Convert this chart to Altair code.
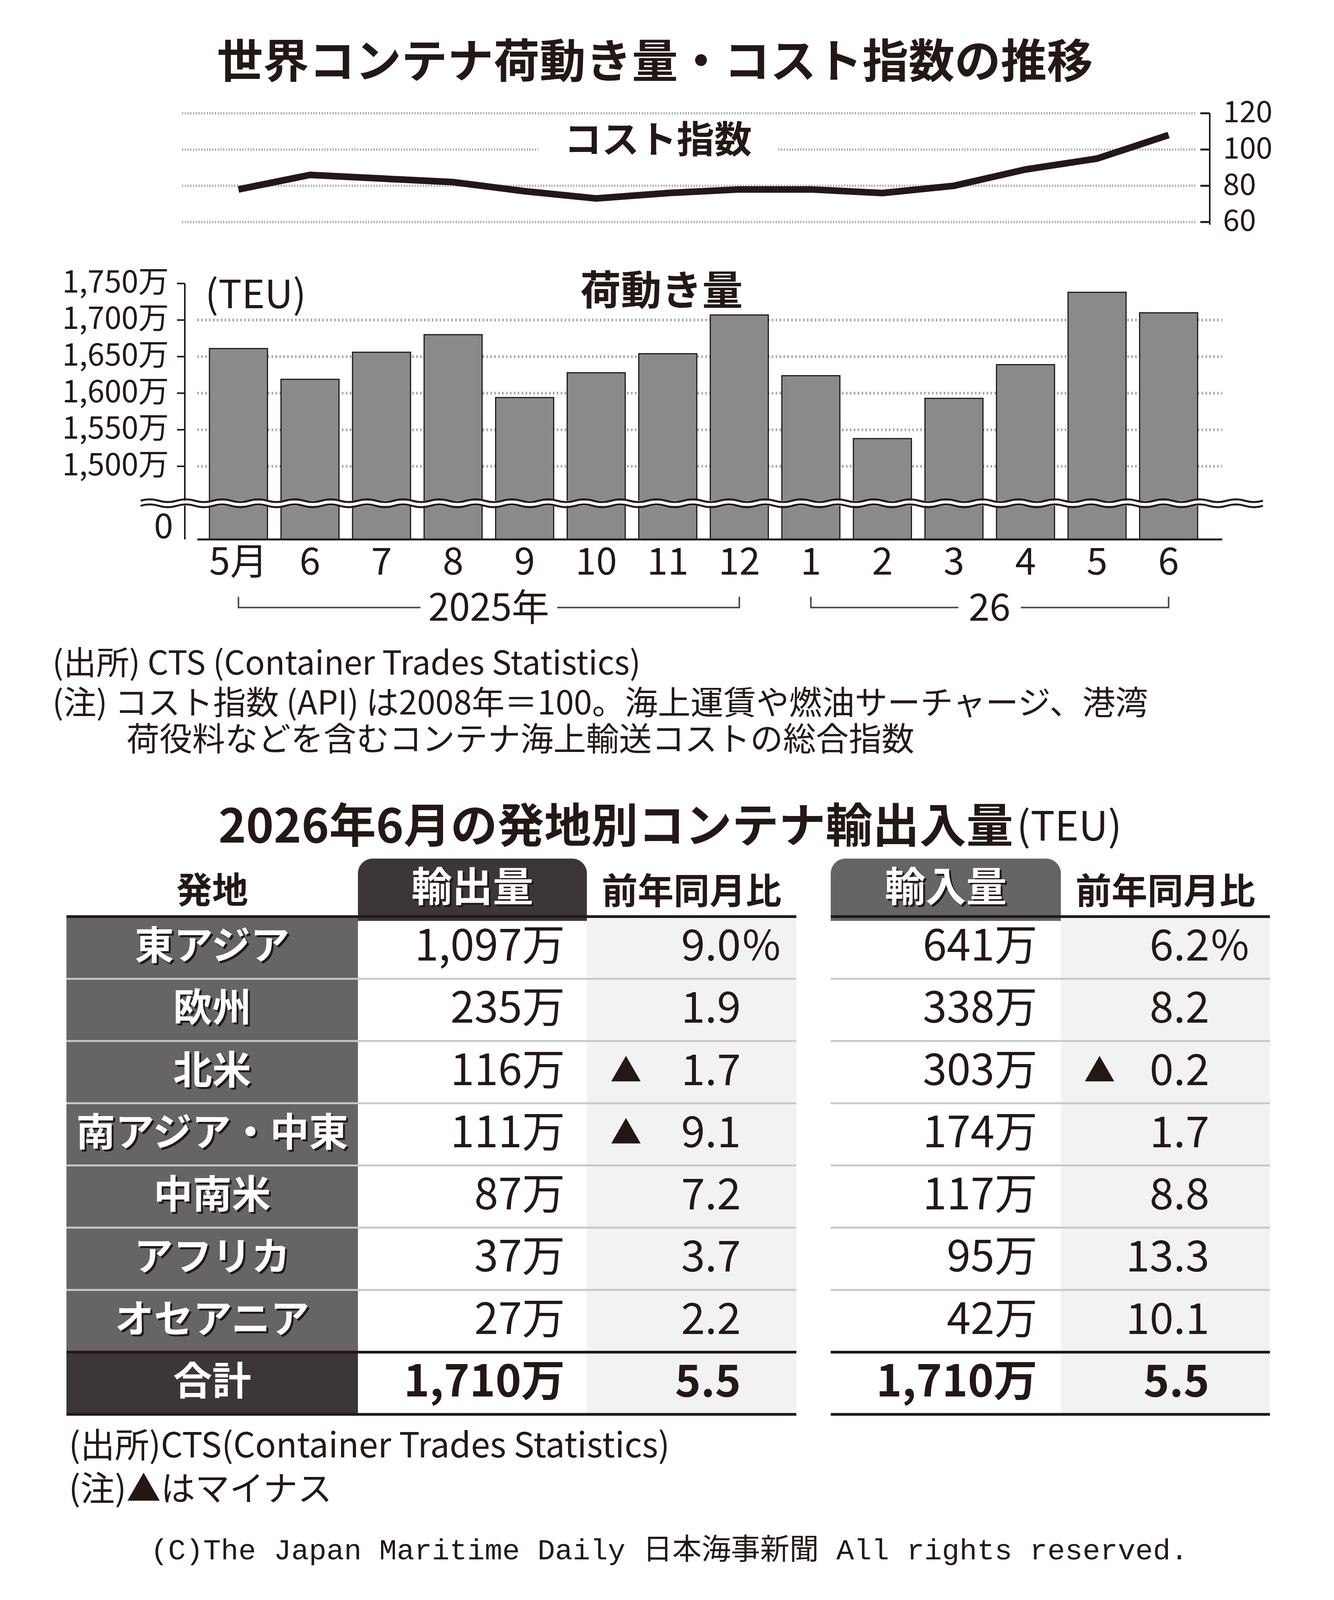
import altair as alt
import pandas as pd

# ---------------- colours / fonts ----------------
DARK = "#231815"
MID = "#666464"
TAB_DARK = "#3c3637"
LIGHT_BG = "#f2f2f2"
SEP = "#c8c8c8"
GRID = "#a8a8a8"
BAR = "#8a8a8a"
BRACKET = "#4a4a4a"
JP = "Noto Sans CJK JP"
MONO = "Liberation Mono, Noto Sans CJK JP"

# The photographed page is only ~4096 px tall, so vertical layout is scaled to fit.
K = 4096 / 5076


def sy(v):
    return v * K


# ---------------- data ----------------
month_keys = ["2025-05", "2025-06", "2025-07", "2025-08", "2025-09", "2025-10", "2025-11",
              "2025-12", "2026-01", "2026-02", "2026-03", "2026-04", "2026-05", "2026-06"]
month_labels = ["5月", "6", "7", "8", "9", "10", "11", "12", "1", "2", "3", "4", "5", "6"]
volume = [1661, 1619, 1656, 1680, 1594, 1628, 1654, 1707, 1624, 1538, 1593, 1639, 1738, 1710]
cost_index = [78, 86, 84, 82, 77, 73, 76, 78, 78, 76, 80, 89, 95, 108]

cost_ticks = [60, 80, 100, 120]
volume_ticks = [1500, 1550, 1600, 1650, 1700, 1750]
volume_grid = [1500, 1550, 1600, 1650, 1700]
volume_floor = 1400          # drawn as "0" below the axis break
volume_break = [1453, 1446]  # edges of the axis break

year_labels = ["2025年", "26"]
year_first = ["2025-05", "2026-01"]
year_last = ["2025-12", "2026-06"]
year_mid = ["2025-08", "2026-03"]

title_main = "世界コンテナ荷動き量・コスト指数の推移"
cost_label = "コスト指数"
volume_label = "荷動き量"
unit_label = "(TEU)"
zero_label = "0"
notes_top = ["(出所) CTS (Container Trades Statistics)",
             "(注) コスト指数 (API) は2008年＝100。海上運賃や燃油サーチャージ、港湾",
             "荷役料などを含むコンテナ海上輸送コストの総合指数"]

regions = ["東アジア", "欧州", "北米", "南アジア・中東", "中南米", "アフリカ", "オセアニア", "合計"]
export_man = [1097, 235, 116, 111, 87, 37, 27, 1710]
export_yoy = [9.0, 1.9, -1.7, -9.1, 7.2, 3.7, 2.2, 5.5]
import_man = [641, 338, 303, 174, 117, 95, 42, 1710]
import_yoy = [6.2, 8.2, -0.2, 1.7, 8.8, 13.3, 10.1, 5.5]

table_title = "2026年6月の発地別コンテナ輸出入量"
table_unit = "(TEU)"
header_region = "発地"
header_export = "輸出量"
header_import = "輸入量"
header_yoy = "前年同月比"
notes_bottom = ["(出所)CTS(Container Trades Statistics)", "(注)▲はマイナス"]
copyright_text = "(C)The Japan Maritime Daily 日本海事新聞 All rights reserved."


def one(text=""):
    return pd.DataFrame({"t": [text]})


# ================= scales =================
W_TOP, H_TOP = 2958, round(sy(1352))
xs = alt.Scale(domain=month_keys, range=[366, 2895], paddingInner=0.189, paddingOuter=0)
cs = alt.Scale(domain=[60, 120], range=[sy(345), 0], nice=False, zero=False)
vs = alt.Scale(domain=[1400, 1750], range=[sy(1352), sy(540)], nice=False, zero=False)

T0 = sy(2351)      # top of the table block (px below the plot origin)
ROW = sy(197.4)
rows_order = ["header"] + regions
ys = alt.Scale(domain=rows_order, range=[T0, T0 + ROW * len(rows_order)],
               paddingInner=0, paddingOuter=0)

df_m = pd.DataFrame({"key": month_keys, "label": month_labels, "vol": volume, "cost": cost_index})
df_ct = pd.DataFrame({"v": cost_ticks})
df_vt = pd.DataFrame({"v": volume_ticks})
df_vg = pd.DataFrame({"v": volume_grid})

XK = alt.X("key:N", scale=xs, sort=month_keys, axis=None)


def YC(field="v"):
    return alt.Y(field + ":Q", scale=cs, axis=None)


def YV(field="v"):
    return alt.Y(field + ":Q", scale=vs, axis=None)


def YCd(val):
    return alt.YDatum(val, type="quantitative", scale=cs, axis=None)


def YVd(val):
    return alt.YDatum(val, type="quantitative", scale=vs, axis=None)


def YR(**kw):
    return alt.Y("row:N", scale=ys, sort=rows_order, axis=None, **kw)


layers = []
# layout anchor (invisible) - fixes the top-left bounds of the view
layers.append(alt.Chart(one()).mark_rule(color="white", strokeWidth=1).encode(
    x=alt.value(-150), y=alt.value(sy(-250)), y2=alt.value(sy(-250) + 1)))

# ================= cost index =================
layers.append(alt.Chart(df_ct).mark_rule(color=GRID, strokeWidth=6, strokeDash=[3, 4]).encode(
    x=alt.value(296), x2=alt.value(2889), y=YC()))
layers.append(alt.Chart(df_ct).mark_rule(color=DARK, strokeWidth=5).encode(
    x=alt.value(2902), x2=alt.value(2926), y=YC()))
layers.append(alt.Chart(one()).mark_rule(color=DARK, strokeWidth=4).encode(
    x=alt.value(2926), y=YCd(120), y2=alt.datum(58.5)))
layers.append(alt.Chart(df_ct).transform_calculate(lab="format(datum.v, 'd')").mark_text(
    font=JP, fontSize=76, color=DARK, align="left", baseline="middle").encode(
    x=alt.value(2960), y=YC(), text="lab:N"))
layers.append(alt.Chart(one()).mark_rect(
    color="white", xOffset=-331, x2Offset=281, yOffset=-7, y2Offset=7).encode(
    x=alt.XDatum("2025-11", type="nominal", scale=xs, axis=None),
    x2=alt.X2Datum("2025-11"), y=YCd(100), y2=alt.datum(100)))
layers.append(alt.Chart(one(cost_label)).mark_text(
    font=JP, fontSize=96, fontWeight="bold", color=DARK, dx=-25, baseline="middle").encode(
    x=alt.XDatum("2025-11", type="nominal", scale=xs, axis=None), y=YCd(104.5), text="t:N"))
layers.append(alt.Chart(df_m).mark_line(
    color=DARK, strokeWidth=17, strokeCap="butt", strokeJoin="miter").encode(
    x=XK, y=YC("cost")))

# ================= volume bars =================
layers.append(alt.Chart(df_vg).mark_rule(color=GRID, strokeWidth=7, strokeDash=[4, 6]).encode(
    x=alt.value(335), x2=alt.value(2958), y=YV()))
layers.append(alt.Chart(df_m).mark_bar(fill=BAR, stroke=DARK, strokeWidth=3).encode(
    x=XK, y=YV("vol"), y2=alt.datum(volume_floor)))
layers.append(alt.Chart(one()).mark_rule(color=DARK, strokeWidth=5).encode(
    x=alt.value(335), x2=alt.value(2958), y=YVd(volume_floor)))
layers.append(alt.Chart(one()).mark_rule(color=DARK, strokeWidth=4).encode(
    x=alt.value(303), y=YVd(1750), y2=alt.datum(volume_floor)))
layers.append(alt.Chart(df_vt).mark_rule(color=DARK, strokeWidth=4).encode(
    x=alt.value(283), x2=alt.value(303), y=YV()))
layers.append(alt.Chart(df_vt).transform_calculate(lab="format(datum.v, ',') + '万'").mark_text(
    font=JP, fontSize=78, color=DARK, align="right", baseline="middle").encode(
    x=alt.value(262), y=YV(), text="lab:N"))
layers.append(alt.Chart(one()).mark_rect(color="white").encode(
    x=alt.value(190), x2=alt.value(3062), y=YVd(volume_break[0]), y2=alt.datum(volume_break[1])))
half = 2 / 62
seg = "q%.5f,-0.0050 %.5f,0 q%.5f,0.0050 %.5f,0" % (half / 2, half, half / 2, half)
wave_path = "M-1,0 " + " ".join([seg] * 31)
layers.append(alt.Chart(pd.DataFrame({"v": volume_break})).mark_point(
    shape=wave_path, size=2872 ** 2, filled=False, stroke=DARK, strokeWidth=5, opacity=1).encode(
    x=alt.value(1626), y=YV()))
layers.append(alt.Chart(one(zero_label)).mark_text(
    font=JP, fontSize=88, color=DARK, align="right", baseline="alphabetic", dy=-3).encode(
    x=alt.value(273), y=YVd(volume_floor), text="t:N"))
layers.append(alt.Chart(one(volume_label)).mark_text(
    font=JP, fontSize=104, fontWeight="bold", color=DARK, dx=-16, baseline="middle").encode(
    x=alt.XDatum("2025-11", type="nominal", scale=xs, axis=None), y=YVd(1737), text="t:N"))
layers.append(alt.Chart(one(unit_label)).mark_text(
    font=JP, fontSize=100, color=DARK, align="left", dx=-11, baseline="middle").encode(
    x=alt.XDatum("2025-05", type="nominal", scale=xs, axis=None, bandPosition=0),
    y=YVd(1732), text="t:N"))

# month labels
layers.append(alt.Chart(df_m).mark_text(
    font=JP, fontSize=96, color=DARK, baseline="middle").encode(
    x=XK, y=alt.value(sy(1428)), text="label:N"))

# year brackets
df_ye = pd.DataFrame({"label": year_labels * 2, "key": year_first + year_last})
df_ym = pd.DataFrame({"label": year_labels, "mid": year_mid})
layers.append(alt.Chart(df_ye).mark_line(color=BRACKET, strokeWidth=4).encode(
    x=XK, y=alt.value(sy(1568)), detail="label:N"))
layers.append(alt.Chart(df_ye).mark_rule(color=BRACKET, strokeWidth=4).encode(
    x=XK, y=alt.value(sy(1568) + 2), y2=alt.value(sy(1534))))
for lab, gap_half in zip(year_labels, [175, 80]):
    layers.append(alt.Chart(df_ym).transform_filter(
        alt.FieldEqualPredicate(field="label", equal=lab)).mark_rect(
        color="white", xOffset=17 - gap_half, x2Offset=17 + gap_half).encode(
        x=alt.X("mid:N", scale=xs, axis=None, bandPosition=1),
        x2=alt.X2("mid", bandPosition=1), y=alt.value(sy(1568) - 12), y2=alt.value(sy(1568) + 12)))
layers.append(alt.Chart(df_ym).mark_text(
    font=JP, fontSize=96, color=DARK, dx=17, baseline="middle").encode(
    x=alt.X("mid:N", scale=xs, axis=None, bandPosition=1), y=alt.value(sy(1574)), text="label:N"))

# title and notes
layers.append(alt.Chart(one(title_main)).mark_text(
    font=JP, fontSize=118, fontWeight="bold", color=DARK, baseline="middle").encode(
    x=alt.value(1506), y=alt.value(sy(-156)), text="t:N"))
for t, (px, py) in zip(notes_top, [(-36, 1750), (-36, 1876), (154, 1992)]):
    layers.append(alt.Chart(one(t)).mark_text(
        font=JP, fontSize=84, color=DARK, align="left", baseline="middle").encode(
        x=alt.value(px), y=alt.value(sy(py)), text="t:N"))

# ================= table (rows on a band scale) =================
df_t = pd.DataFrame({"row": regions, "exp": export_man, "exp_yoy": export_yoy,
                     "imp": import_man, "imp_yoy": import_yoy})
TOTAL = regions[-1]
FIRST = regions[0]
is_total = "datum.row == '%s'" % TOTAL
not_total = "datum.row != '%s'" % TOTAL

# column layout (pixels from the table's left edge)
COL_REG = (0, 746)
COL_EXV = (746, 586)
COL_EXY = (1332, 536)
COL_IMV = (1956, 589)
COL_IMY = (2545, 535)


def separators(x0, w):
    base = alt.Chart(df_t)
    light = base.transform_filter(alt.FieldOneOfPredicate(field="row", oneOf=regions[1:-1])).mark_rule(
        color=SEP, strokeWidth=5).encode(x=alt.value(x0), x2=alt.value(x0 + w), y=YR(bandPosition=0))
    dark = base.transform_filter(alt.FieldOneOfPredicate(field="row", oneOf=[FIRST, TOTAL])).mark_rule(
        color=DARK, strokeWidth=7).encode(x=alt.value(x0), x2=alt.value(x0 + w), y=YR(bandPosition=0))
    bottom = base.transform_filter(alt.FieldEqualPredicate(field="row", equal=TOTAL)).mark_rule(
        color=DARK, strokeWidth=7).encode(x=alt.value(x0), x2=alt.value(x0 + w), y=YR(bandPosition=1))
    return [light, dark, bottom]


def header_text(text, x0, w, dy, size, weight, color, shadow=False):
    df = pd.DataFrame({"row": ["header"], "t": [text]})
    out = []
    if shadow:
        out.append(alt.Chart(df).mark_text(font=JP, fontSize=size, fontWeight=weight, color=DARK,
                                           dx=5, dy=dy + 5, baseline="middle").encode(
            x=alt.value(x0 + w / 2), y=YR(), text="t:N"))
    out.append(alt.Chart(df).mark_text(font=JP, fontSize=size, fontWeight=weight, color=color,
                                       dy=dy, baseline="middle").encode(
        x=alt.value(x0 + w / 2), y=YR(), text="t:N"))
    return out


def tab(x0, w, fill):
    df = pd.DataFrame({"row": ["header"]})
    return alt.Chart(df).mark_rect(fill=fill, cornerRadiusTopLeft=38, cornerRadiusTopRight=38,
                                   yOffset=11).encode(
        x=alt.value(x0), x2=alt.value(x0 + w), y=YR())


def region_col(x0, w):
    bg = alt.Chart(df_t).mark_rect().encode(
        x=alt.value(x0), x2=alt.value(x0 + w), y=YR(),
        color=alt.condition(is_total, alt.value(TAB_DARK), alt.value(MID)))
    shadow = alt.Chart(df_t).transform_filter(not_total).mark_text(
        font=JP, fontSize=100, fontWeight="bold", color=DARK, dx=5, dy=5, baseline="middle").encode(
        x=alt.value(x0 + w / 2), y=YR(), text="row:N")
    text = alt.Chart(df_t).mark_text(
        font=JP, fontSize=100, fontWeight="bold", color="white", baseline="middle").encode(
        x=alt.value(x0 + w / 2), y=YR(), text="row:N")
    return [bg, *separators(x0, w), shadow, text,
            *header_text(header_region, x0, w, 17, 92, "bold", DARK)]


def value_col(field, x0, w, right, tab_fill, tab_text):
    base = alt.Chart(df_t).transform_calculate(lab="format(datum.%s, ',') + '万'" % field)
    normal = base.transform_filter(not_total).mark_text(
        font=JP, fontSize=110, color=DARK, align="right", baseline="middle").encode(
        x=alt.value(x0 + right), y=YR(), text="lab:N")
    total = base.transform_filter(is_total).mark_text(
        font=JP, fontSize=112, fontWeight="bold", color=DARK, align="right", baseline="middle").encode(
        x=alt.value(x0 + right), y=YR(), text="lab:N")
    return [tab(x0, w, tab_fill), *separators(x0, w), normal, total,
            *header_text(tab_text, x0, w, 10, 104, "bold", "white", shadow=True)]


def yoy_col(field, x0, w, right, tri_x):
    base = alt.Chart(df_t).transform_calculate(lab="format(abs(datum.%s), '.1f')" % field)
    bg = alt.Chart(df_t).mark_rect(fill=LIGHT_BG).encode(
        x=alt.value(x0), x2=alt.value(x0 + w), y=YR())
    normal = base.transform_filter(not_total).mark_text(
        font=JP, fontSize=110, color=DARK, align="right", baseline="middle").encode(
        x=alt.value(x0 + right), y=YR(), text="lab:N")
    total = base.transform_filter(is_total).mark_text(
        font=JP, fontSize=112, fontWeight="bold", color=DARK, align="right", baseline="middle").encode(
        x=alt.value(x0 + right), y=YR(), text="lab:N")
    tri = alt.Chart(df_t).transform_filter("datum.%s < 0" % field).transform_calculate(
        s="'▲'").mark_text(font=JP, fontSize=80, color=DARK, baseline="middle").encode(
        x=alt.value(x0 + tri_x), y=YR(), text="s:N")
    pct = alt.Chart(df_t).transform_filter("datum.row == '%s'" % FIRST).transform_calculate(
        s="'%'").mark_text(font=JP, fontSize=106, color=DARK, align="left", baseline="middle").encode(
        x=alt.value(x0 + right + 4), y=YR(), text="s:N")
    return [bg, *separators(x0, w), normal, total, tri, pct,
            *header_text(header_yoy, x0, w, 19, 92, "bold", DARK)]


layers += region_col(*COL_REG)
layers += value_col("exp", *COL_EXV, 530, TAB_DARK, header_export)
layers += yoy_col("exp_yoy", *COL_EXY, 394, 100)
layers += value_col("imp", *COL_IMV, 529, MID, header_import)
layers += yoy_col("imp_yoy", *COL_IMY, 380, 99)
layers.append(alt.Chart(one(table_title)).mark_text(
    font=JP, fontSize=120, fontWeight="bold", color=DARK, align="right", baseline="middle").encode(
    x=alt.value(2423), y=alt.value(T0 - sy(82)), text="t:N"))
layers.append(alt.Chart(one(table_unit)).mark_text(
    font=JP, fontSize=104, color=DARK, align="left", baseline="middle").encode(
    x=alt.value(2432), y=alt.value(T0 - sy(82)), text="t:N"))
for t, py in zip(notes_bottom, [1881, 2019]):
    layers.append(alt.Chart(one(t)).mark_text(
        font=JP, fontSize=88, color=DARK, align="left", baseline="middle").encode(
        x=alt.value(6), y=alt.value(T0 + sy(py)), text="t:N"))
layers.append(alt.Chart(one(copyright_text)).mark_text(
    font=MONO, fontSize=75, color=DARK, baseline="middle").encode(
    x=alt.value(1543), y=alt.value(T0 + sy(2208)), text="t:N"))

chart = alt.layer(*layers).resolve_scale(y="independent").properties(
    width=W_TOP, height=H_TOP,
    padding={"left": 11, "top": round((100 + 8) * K - 8), "right": 10, "bottom": 10},
    background="white").configure_view(stroke=None)

chart.save("out.html", embed_options={"renderer": "svg", "actions": False})
